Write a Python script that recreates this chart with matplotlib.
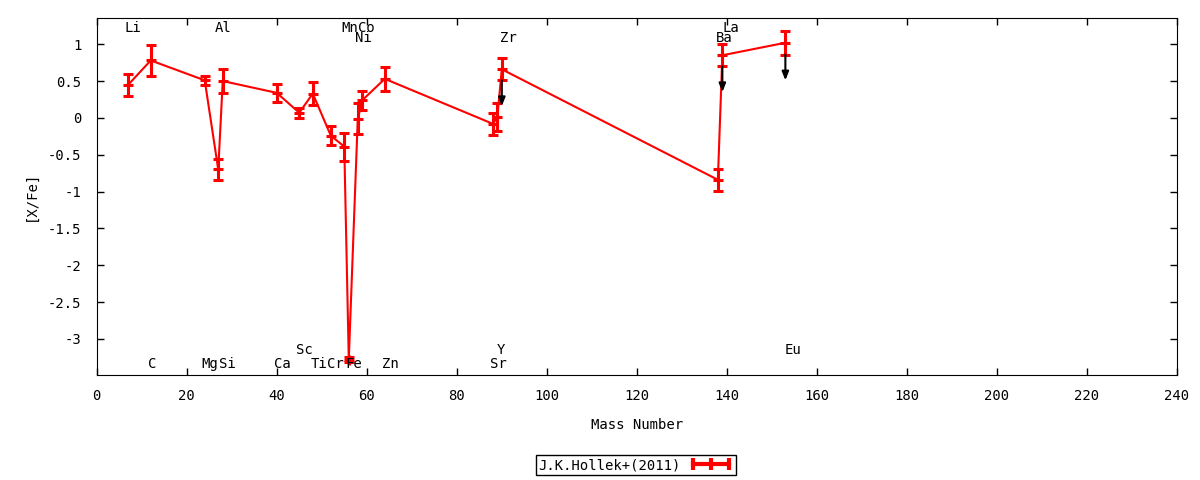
import matplotlib

matplotlib.use("Agg")
import matplotlib.pyplot as plt
from matplotlib.lines import Line2D

plt.rcParams["font.family"] = ["DejaVu Sans Mono"]
plt.rcParams["font.size"] = 10

# Hollek et al. (2011) abundances
elements = ["Li", "C", "Mg", "Al", "Si", "Ca", "Sc", "Ti", "Cr", "Mn",
            "Fe", "Ni", "Co", "Zn", "Sr", "Y", "Zr", "Ba", "La", "Eu"]
mass = [7, 12, 24, 27, 28, 40, 45, 48, 52, 55,
        56, 58, 59, 64, 88, 89, 90, 138, 139, 153]
x_fe = [0.45, 0.78, 0.51, -0.70, 0.50, 0.34, 0.07, 0.33, -0.24, -0.39,
        -3.28, -0.01, 0.24, 0.53, -0.08, 0.01, 0.66, -0.84, 0.85, 1.02]
err = [0.15, 0.21, 0.06, 0.14, 0.16, 0.12, 0.07, 0.16, 0.13, 0.19,
       0.03, 0.21, 0.13, 0.16, 0.15, 0.19, 0.15, 0.15, 0.15, 0.16]
upper_limit = ["Zr", "La", "Eu"]
arrow_len = 0.35

# element labels: x position and text row (in [X/Fe] units)
label_x = [8.0, 12.3, 25.2, 28.1, 29.0, 41.2, 46.1, 49.3, 53.1, 56.2,
           57.1, 59.2, 60.0, 65.3, 89.2, 89.7, 91.4, 139.4, 140.8, 154.6]
label_y = [1.217, -3.336, -3.336, 1.217, -3.336, -3.336, -3.145, -3.336, -3.336, 1.217,
           -3.336, 1.088, 1.217, -3.336, -3.336, -3.145, 1.088, 1.088, 1.217, -3.145]

fig = plt.figure(figsize=(12, 4.8), dpi=100)
ax = fig.add_axes([0.0806, 0.2188, 0.9002, 0.7443])

ax.errorbar(mass, x_fe, yerr=err, color="red", lw=1.5, elinewidth=2.2,
            capsize=3.5, capthick=2.2, marker="+", ms=7, mew=2.2)

for el, m, v, e in zip(elements, mass, x_fe, err):
    if el in upper_limit:
        ax.annotate("", xy=(m, v - e - arrow_len), xytext=(m, v - e),
                    arrowprops=dict(arrowstyle="-|>,head_length=0.5,head_width=0.2",
                                    color="black", lw=1.5, shrinkA=0, shrinkB=0))

for el, lx, ly in zip(elements, label_x, label_y):
    ax.text(lx, ly, el, ha="center", va="center", fontsize=10)

ax.set_xlim(0, 240)
ax.set_ylim(-3.49, 1.36)
ax.set_xticks(range(0, 241, 20))
ax.set_yticks([-3, -2.5, -2, -1.5, -1, -0.5, 0, 0.5, 1])
ax.set_yticklabels(["-3", "-2.5", "-2", "-1.5", "-1", "-0.5", "0", "0.5", "1"])
ax.tick_params(direction="in", length=5, top=True, right=True, width=1)
ax.tick_params(axis="x", pad=10)
ax.tick_params(axis="y", pad=11)
ax.set_xlabel("Mass Number", labelpad=11)
ax.set_ylabel("[X/Fe]", labelpad=7)

handle = Line2D([], [], color="red", lw=3, marker="|", ms=9, mew=3)
leg = fig.legend([handle], ["J.K.Hollek+(2011)"], loc="center",
                 bbox_to_anchor=(0.53, 0.031), markerfirst=False, numpoints=3,
                 fancybox=False, edgecolor="black", framealpha=1,
                 handlelength=3.2, borderpad=0.2, handletextpad=0.6,
                 borderaxespad=0)
leg.get_frame().set_linewidth(1)

fig.savefig("out.png", dpi=100)
